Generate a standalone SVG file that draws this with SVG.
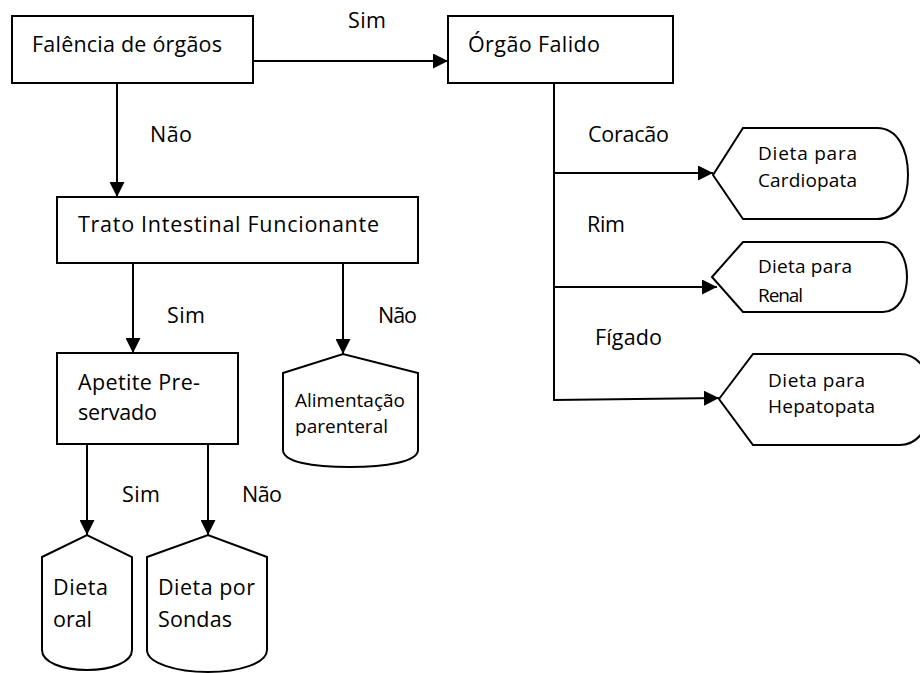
<svg xmlns="http://www.w3.org/2000/svg" width="920" height="673" viewBox="0 0 920 673">
  <style>
    .box { fill: #ffffff; stroke: #000000; stroke-width: 2; }
    .wire { fill: none; stroke: #000000; stroke-width: 2; }
    .arrow { marker-end: url(#head); }
    text { font-family: "Comic Sans MS", "Open Sans", "Noto Sans", sans-serif; fill: #000000; }
    .t { font-size: 21.5px; }
    .s { font-size: 19px; }
  </style>
  <defs>
    <marker id="head" markerUnits="userSpaceOnUse" markerWidth="15" markerHeight="15" refX="15" refY="7.5" orient="auto">
      <path d="M0,0 L15,7.5 L0,15 Z" fill="#000000"/>
    </marker>
    <clipPath id="cut-parenteral">
      <rect x="283" y="370" width="140" height="66"/>
    </clipPath>
  </defs>

  <!-- connectors -->
  <g id="connectors">
    <line class="wire arrow" x1="253" y1="61" x2="448" y2="61"/>
    <line class="wire arrow" x1="117" y1="83" x2="117" y2="197"/>
    <line class="wire arrow" x1="133" y1="263" x2="133" y2="353"/>
    <line class="wire arrow" x1="343" y1="263" x2="343" y2="354"/>
    <line class="wire arrow" x1="87" y1="444" x2="87" y2="535"/>
    <line class="wire arrow" x1="208" y1="444" x2="208" y2="535"/>
    <line class="wire" x1="554" y1="83" x2="554" y2="401"/>
    <line class="wire arrow" x1="553" y1="173" x2="713" y2="173"/>
    <line class="wire arrow" x1="553" y1="287" x2="717" y2="287"/>
    <line class="wire arrow" x1="553" y1="400" x2="719" y2="398"/>

    <text class="t" x="348" y="28" textLength="38">Sim</text>
    <text class="t" x="150" y="142" textLength="42">Não</text>
    <text class="t" x="167" y="323" textLength="38">Sim</text>
    <text class="t" x="378" y="323" textLength="39">Não</text>
    <text class="t" x="122" y="502" textLength="38">Sim</text>
    <text class="t" x="242" y="502" textLength="40">Não</text>
    <text class="t" x="588" y="142" textLength="81">Coracão</text>
    <text class="t" x="587" y="232" textLength="38">Rim</text>
    <text class="t" x="595" y="345" textLength="67">Fígado</text>
  </g>

  <g id="falencia">
    <rect class="box" x="12" y="16" width="241" height="67"/>
    <text class="t" x="32" y="52" textLength="190">Falência de órgãos</text>
  </g>

  <g id="orgao-falido">
    <rect class="box" x="448" y="16" width="225" height="67"/>
    <text class="t" x="468" y="52" textLength="132">Órgão Falido</text>
  </g>

  <g id="trato">
    <rect class="box" x="57" y="197" width="361" height="66"/>
    <text class="t" x="78" y="232" textLength="301">Trato Intestinal Funcionante</text>
  </g>

  <g id="apetite">
    <rect class="box" x="57" y="353" width="181" height="91"/>
    <text class="t" x="78" y="390" textLength="122">Apetite Pre-</text>
    <text class="t" x="78" y="420" textLength="79">servado</text>
  </g>

  <g id="parenteral">
    <path class="box" d="M283,373 L343,354 L418,373 L418,450 C418,462 385,467 350,467 C312,467 283,462 283,450 Z"/>
    <g clip-path="url(#cut-parenteral)">
      <text class="s" x="295" y="407" textLength="110">Alimentação</text>
      <text class="s" x="295" y="433" textLength="93">parenteral</text>
    </g>
  </g>

  <g id="dieta-oral">
    <path class="box" d="M42,557 L87,535 L132,557 L132,650 C132,662 112,670 87,670 C62,670 42,662 42,650 Z"/>
    <text class="t" x="53" y="595" textLength="55">Dieta</text>
    <text class="t" x="53" y="627" textLength="39">oral</text>
  </g>

  <g id="dieta-sondas">
    <path class="box" d="M147,557 L208,535 L267,557 L267,650 C267,663 240,672 208,672 C176,672 147,663 147,650 Z"/>
    <text class="t" x="158" y="595" textLength="97">Dieta por</text>
    <text class="t" x="158" y="627" textLength="74">Sondas</text>
  </g>

  <g id="cardiopata">
    <path class="box" d="M713,175 L743,128 L877,128 C898,128 908,150 908,175 C908,200 898,219 877,219 L743,219 Z"/>
    <text class="s" x="758" y="160" textLength="99">Dieta para</text>
    <text class="s" x="758" y="187" textLength="99">Cardiopata</text>
  </g>

  <g id="renal">
    <path class="box" d="M712,277 L743,242 L883,242 C898,242 907,258 907,277 C907,296 898,312 883,312 L743,312 Z"/>
    <text class="s" x="758" y="273" textLength="94">Dieta para</text>
    <text class="s" x="758" y="302" textLength="45">Renal</text>
  </g>

  <g id="hepatopata">
    <path class="box" d="M719,399 L753,354 L900,354 C920,354 932,375 932,399 C932,423 920,445 900,445 L753,445 Z"/>
    <text class="s" x="768" y="387" textLength="97">Dieta para</text>
    <text class="s" x="768" y="413" textLength="107">Hepatopata</text>
  </g>
</svg>
